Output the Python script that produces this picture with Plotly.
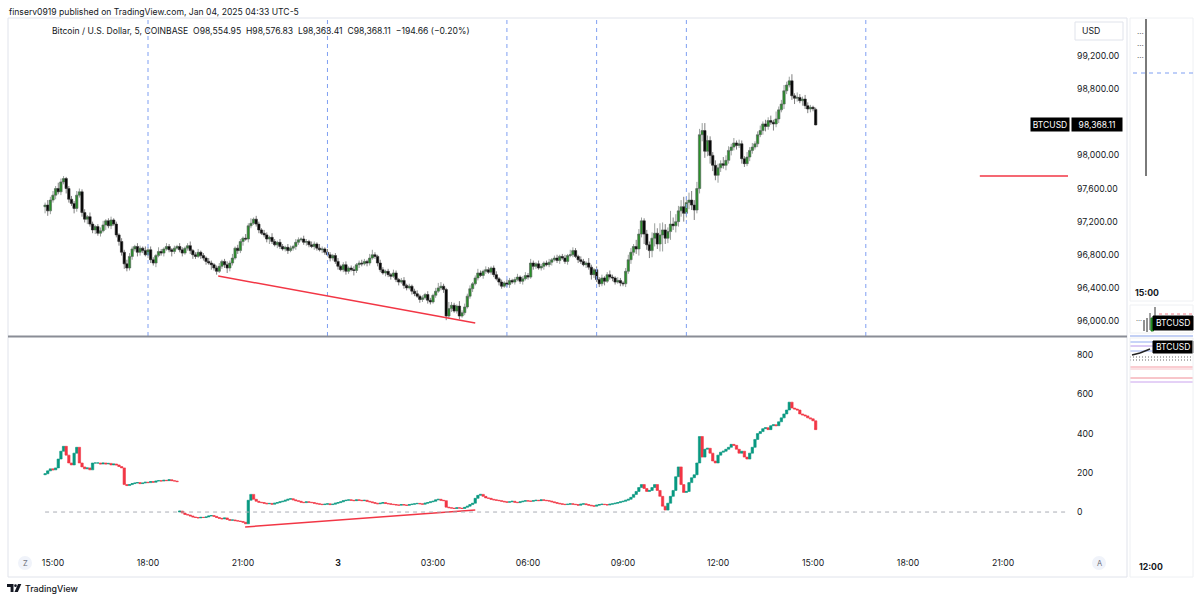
import pandas as pd
import plotly.graph_objects as go

W, H = 1200, 601


def px(x):
    return x / W


def py(y):
    return 1 - y / H


# ---------------- data ----------------
bar_start = "2025-01-02 14:45"
first_open = 97380
last_open = 98554.95

close = [
    97400, 97330, 97460, 97520, 97600, 97560, 97680, 97720, 97600, 97470,
    97420, 97360, 97520, 97560, 97310, 97230, 97260, 97170, 97100, 97140,
    97060, 97090, 97160, 97210, 97150, 97220, 97170, 97040, 96960, 96830,
    96690, 96640, 96780, 96870, 96900, 96830, 96880, 96850, 96800, 96860,
    96740, 96700, 96790, 96840, 96820, 96870, 96900, 96860, 96840, 96880,
    96900, 96860, 96820, 96880, 96910, 96850, 96800, 96780, 96830, 96790,
    96760, 96720, 96700, 96680, 96640, 96600, 96660, 96720, 96680, 96640,
    96700, 96760, 96880, 96850, 96960, 97000, 96990, 97150, 97180, 97230,
    97170, 97100, 97060, 97040, 96990, 97010, 96960, 96920, 96950, 96900,
    96870, 96890, 96850, 96880, 96900, 96950, 96980, 96990, 96950, 96960,
    96920, 96900, 96930, 96880, 96860, 96870, 96830, 96800, 96760, 96790,
    96720, 96660, 96620, 96680, 96600, 96640, 96620, 96610, 96680, 96700,
    96690, 96720, 96700, 96760, 96800, 96780, 96700, 96620, 96580, 96600,
    96560, 96540, 96580, 96500, 96470, 96490, 96430, 96400, 96420, 96360,
    96330, 96300, 96260, 96280, 96320, 96250, 96230, 96310, 96360, 96400,
    96420, 96380, 96060, 96150, 96190, 96120, 96180, 96060, 96100, 96170,
    96300, 96390, 96450, 96520, 96580, 96550, 96600, 96620, 96590, 96640,
    96560, 96510, 96470, 96420, 96460, 96440, 96490, 96470, 96500, 96530,
    96480, 96510, 96550, 96530, 96700, 96660, 96690, 96640, 96660, 96700,
    96680, 96710, 96740, 96760, 96730, 96780, 96760, 96720, 96790, 96800,
    96850, 96780, 96740, 96720, 96680, 96700, 96650, 96560, 96620, 96500,
    96450, 96520, 96480, 96560, 96530, 96520, 96470, 96490, 96460, 96450,
    96600, 96740, 96830, 96900, 96870, 97050, 97210, 97050, 96920, 96850,
    97000, 97060, 96930, 97040, 97100, 97000, 97080, 97170, 97150, 97200,
    97330, 97380, 97300, 97430, 97460, 97400, 97340, 97600, 98250, 98300,
    98050, 98180, 98000, 97880, 97760, 97850, 97900, 97880, 97940, 98060,
    98100, 98150, 98120, 98140, 97960, 97900, 97980, 98060, 98100, 98140,
    98250, 98300, 98380, 98350, 98420, 98400, 98380, 98440, 98550, 98620,
    98780, 98850, 98900, 98720, 98690, 98700, 98660, 98680, 98600, 98560,
    98580, 98562.77, 98368.11,
]

wick_up = [
    30, 60, 40, 50, 30, 70, 40, 30, 20, 30,
    40, 30, 50, 40, 30, 40, 20, 50, 30, 20,
    30, 40, 50, 20, 30, 40, 20, 30, 20, 40,
    30, 50, 40, 30, 20, 40, 30, 20, 50, 30,
    40, 30, 20, 50, 30, 20, 40, 30, 20, 30,
    20, 40, 30, 20, 30, 50, 20, 30, 40, 20,
    30, 20, 40, 30, 20, 30, 40, 20, 30, 40,
    30, 50, 20, 40, 30, 20, 50, 30, 60, 20,
    40, 30, 20, 40, 30, 20, 50, 30, 20, 40,
    30, 20, 40, 30, 20, 40, 30, 20, 40, 30,
    20, 40, 30, 20, 50, 30, 20, 40, 30, 20,
    30, 40, 20, 30, 40, 20, 30, 40, 20, 30,
    40, 30, 20, 50, 60, 30, 20, 40, 30, 20,
    30, 20, 40, 30, 20, 30, 40, 20, 30, 20,
    30, 40, 20, 30, 20, 40, 30, 20, 40, 60,
    50, 30, 20, 80, 40, 30, 20, 60, 30, 40,
    30, 40, 20, 30, 50, 30, 20, 40, 30, 20,
    30, 40, 20, 30, 20, 40, 30, 20, 30, 40,
    20, 30, 40, 30, 50, 30, 20, 40, 30, 20,
    30, 40, 20, 30, 40, 20, 30, 40, 20, 60,
    40, 30, 20, 40, 30, 20, 60, 30, 20, 40,
    30, 40, 20, 30, 50, 30, 20, 40, 30, 20,
    40, 60, 50, 30, 80, 60, 40, 30, 50, 40,
    70, 120, 60, 140, 90, 70, 50, 160, 80, 90,
    60, 80, 120, 70, 90, 110, 60, 80, 70, 90,
    90, 60, 50, 40, 60, 50, 40, 80, 60, 50,
    40, 60, 30, 50, 40, 30, 60, 40, 50, 30,
    40, 60, 30, 50, 40, 60, 30, 90, 40, 50,
    70, 40, 50, 80, 30, 60, 40, 30, 50, 40,
    30, 20, 21.88,
]

wick_dn = [
    80, 60, 40, 30, 50, 30, 40, 30, 60, 40,
    30, 60, 40, 30, 50, 40, 60, 30, 40, 50,
    30, 40, 20, 60, 30, 40, 20, 30, 50, 40,
    60, 40, 30, 40, 30, 50, 40, 30, 20, 40,
    40, 30, 50, 20, 30, 40, 20, 30, 60, 30,
    20, 30, 40, 20, 30, 40, 50, 30, 20, 40,
    30, 40, 20, 60, 30, 40, 20, 30, 40, 60,
    40, 30, 20, 40, 30, 50, 20, 40, 30, 20,
    30, 40, 20, 30, 40, 60, 30, 20, 40, 30,
    20, 30, 40, 20, 30, 40, 30, 20, 30, 40,
    30, 20, 40, 30, 20, 40, 30, 20, 40, 30,
    30, 40, 20, 30, 40, 30, 20, 60, 30, 40,
    30, 20, 40, 30, 20, 30, 40, 30, 20, 40,
    30, 40, 20, 30, 40, 20, 40, 30, 20, 40,
    30, 20, 40, 30, 20, 40, 30, 20, 30, 20,
    30, 40, 50, 30, 40, 20, 30, 40, 20, 30,
    20, 30, 40, 20, 30, 20, 40, 30, 20, 30,
    30, 20, 40, 30, 20, 30, 40, 20, 30, 20,
    30, 40, 20, 30, 20, 40, 30, 20, 30, 40,
    20, 30, 40, 20, 30, 40, 20, 30, 40, 20,
    30, 20, 40, 30, 20, 40, 30, 60, 40, 30,
    40, 30, 50, 20, 30, 40, 30, 20, 40, 30,
    40, 30, 50, 40, 60, 80, 40, 120, 60, 90,
    80, 100, 60, 90, 200, 70, 60, 100, 50, 80,
    60, 70, 100, 50, 80, 60, 120, 40, 60, 80,
    80, 60, 100, 70, 60, 90, 50, 40, 60, 40,
    60, 40, 50, 30, 60, 40, 30, 50, 40, 30,
    40, 30, 50, 60, 40, 30, 80, 40, 50, 30,
    60, 40, 30, 50, 70, 40, 30, 60, 40, 50,
    40, 30, 4.70,
]

cvd_first_open = 190
cvd_reset = "2025-01-02 19:00"
cvd_close = [
    195, 210, 220, 215, 225, 270, 310, 335, 290, 250,
    240, 300, 330, 250, 230, 220, 225, 215, 250, 250,
    250, 245, 250, 245, 248, 240, 245, 240, 232, 225,
    140, 135, 140, 145, 148, 150, 145, 148, 152, 150,
    155, 152, 158, 160, 158, 162, 160, 165, 160, 158, 155,
    5, -5, -12, -15, -20, -25, -28, -30, -27, -28,
    -25, -20, -18, -22, -28, -32, -35, -30, -38, -42,
    -40, -44, -46, -48, -52, -60, 60, 90, 65, 55,
    50, 48, 45, 42, 44, 40, 45, 48, 52, 55,
    60, 65, 68, 62, 58, 55, 50, 48, 52, 50,
    48, 45, 42, 40, 38, 40, 42, 38, 40, 45,
    48, 52, 58, 60, 62, 60, 58, 62, 60, 58,
    60, 55, 52, 48, 45, 42, 45, 48, 44, 42,
    40, 38, 36, 35, 38, 36, 34, 38, 40, 42,
    44, 42, 40, 45, 48, 52, 55, 62, 65, 60,
    58, 25, 22, 20, 18, 22, 20, 18, 24, 30,
    38, 45, 70, 85, 90, 80, 72, 70, 65, 62,
    60, 58, 55, 52, 50, 52, 55, 50, 48, 52,
    55, 58, 56, 55, 58, 60, 58, 62, 60, 58,
    56, 52, 48, 45, 42, 40, 38, 40, 42, 40,
    38, 35, 40, 42, 38, 35, 32, 30, 35, 38,
    40, 38, 36, 40, 42, 45, 48, 52, 55, 60,
    65, 75, 90, 105, 125, 140, 120, 105, 110, 125, 140, 110, 80, 30, 10,
    45, 80, 110, 180, 230, 140, 100, 105, 150, 175,
    190, 250, 385, 280, 320, 325, 300, 260, 250, 290,
    305, 310, 320, 330, 345, 340, 320, 300, 310, 280,
    270, 300, 330, 370, 400, 410, 425, 430, 420, 440,
    445, 440, 460, 480, 500, 520, 560, 530, 525, 520,
    500, 495, 490, 480, 475, 465, 420,
]

session_lines = ["2025-01-02 18:00", "2025-01-02 23:40", "2025-01-03 05:20",
                 "2025-01-03 08:10", "2025-01-03 11:00", "2025-01-03 16:40"]
price_trend = (("2025-01-02 20:13", 96543), ("2025-01-03 04:20", 95976))
cvd_trend = (("2025-01-02 21:04", -76), ("2025-01-03 04:20", 10))
level_line = ("2025-01-03 20:16", 97751)

x_range = ["2025-01-02 13:34:44", "2025-01-03 23:03:05"]
price_range = [95819, 99659]
price_ticks = [96000, 96400, 96800, 97200, 97600, 98000, 98800, 99200]
cvd_range = [-168, 887]
cvd_ticks = [0, 200, 400, 600, 800]
time_ticks = ["2025-01-02 15:00", "2025-01-02 18:00", "2025-01-02 21:00",
              "2025-01-03 00:00", "2025-01-03 03:00", "2025-01-03 06:00",
              "2025-01-03 09:00", "2025-01-03 12:00", "2025-01-03 15:00",
              "2025-01-03 18:00", "2025-01-03 21:00"]
time_labels = ["15:00", "18:00", "21:00", "<b>3</b>", "03:00", "06:00",
               "09:00", "12:00", "15:00", "18:00", "21:00"]

# ---------------- derived OHLC ----------------
times = pd.date_range(bar_start, periods=len(close), freq="5min")
opens = [first_open] + close[:-1]
opens[-1] = last_open
highs = [max(o, c) + w for o, c, w in zip(opens, close, wick_up)]
lows = [min(o, c) - w for o, c, w in zip(opens, close, wick_dn)]

cvd_open = [cvd_first_open] + cvd_close[:-1]
reset_idx = list(times).index(pd.Timestamp(cvd_reset))
cvd_open[reset_idx] = 0
cvd_high = [max(o, c) for o, c in zip(cvd_open, cvd_close)]
cvd_low = [min(o, c) for o, c in zip(cvd_open, cvd_close)]

FONT = "Inter"
TXT = "#131722"
FS = 8.7

fig = go.Figure()
fig.add_trace(go.Candlestick(
    x=times, open=opens, high=highs, low=lows, close=close,
    xaxis="x", yaxis="y", whiskerwidth=0,
    increasing=dict(fillcolor="#2a8f2a", line=dict(color="#55605a", width=0.6)),
    decreasing=dict(fillcolor="#050505", line=dict(color="#2a2a2a", width=0.6)),
    showlegend=False, hoverinfo="skip"))
fig.add_trace(go.Candlestick(
    x=times, open=cvd_open, high=cvd_high, low=cvd_low, close=cvd_close,
    xaxis="x2", yaxis="y2", whiskerwidth=0,
    increasing=dict(fillcolor="#089981", line=dict(color="#089981", width=0.6)),
    decreasing=dict(fillcolor="#f23645", line=dict(color="#f23645", width=0.6)),
    showlegend=False, hoverinfo="skip"))

shapes = []
annotations = []


def pline(x0, y0, x1, y1, color, width=1, dash=None):
    shapes.append(dict(type="line", xref="paper", yref="paper",
                       x0=px(x0), y0=py(y0), x1=px(x1), y1=py(y1),
                       line=dict(color=color, width=width, dash=dash), layer="above"))


def prect(x0, y0, x1, y1, line="#e0e3eb", fill="rgba(0,0,0,0)", width=1):
    shapes.append(dict(type="rect", xref="paper", yref="paper",
                       x0=px(x0), y0=py(y0), x1=px(x1), y1=py(y1),
                       line=dict(color=line, width=width), fillcolor=fill, layer="above"))


def ptext(x, y, text, size=FS, color=TXT, xanchor="left", weight=None, **kw):
    f = dict(family=FONT, size=size, color=color)
    if weight:
        f["weight"] = weight
    annotations.append(dict(xref="paper", yref="paper", x=px(x), y=py(y), text=text,
                            showarrow=False, xanchor=xanchor, yanchor="middle",
                            font=f, **kw))


# session dashed lines (main pane only)
for t in session_lines:
    shapes.append(dict(type="line", xref="x", yref="paper", x0=t, x1=t,
                       y0=py(336), y1=py(18),
                       line=dict(color="#7f9ff2", width=1, dash="4px,4px")))

# trend lines
shapes.append(dict(type="line", xref="x", yref="y",
                   x0=price_trend[0][0], y0=price_trend[0][1],
                   x1=price_trend[1][0], y1=price_trend[1][1],
                   line=dict(color="#f23645", width=1.5)))
shapes.append(dict(type="line", xref="x2", yref="y2",
                   x0=cvd_trend[0][0], y0=cvd_trend[0][1],
                   x1=cvd_trend[1][0], y1=cvd_trend[1][1],
                   line=dict(color="#f23645", width=1.5)))
shapes.append(dict(type="line", xref="x", yref="y",
                   x0=level_line[0], y0=level_line[1],
                   x1=x_range[1], y1=level_line[1],
                   line=dict(color="#f23645", width=1.5)))
# zero line lower pane
shapes.append(dict(type="line", xref="x2", yref="y2",
                   x0=times[0], y0=0, x1=x_range[1], y1=0,
                   line=dict(color="#a9acb5", width=1, dash="4px,4px")))

# frames
prect(8, 18, 1127, 577)
pline(8, 336.5, 1127, 336.5, "#8a8d96", 2)

# USD box
prect(1075, 22, 1123, 40, line="#e0e3eb", fill="white")
ptext(1080, 31, "USD", size=FS)

# current price labels
last_close = close[-1]
annotations.append(dict(xref="paper", yref="y", x=px(1049.5), y=last_close,
                        text="BTCUSD", showarrow=False, xanchor="center", yanchor="middle",
                        font=dict(family=FONT, size=8.5, color="white"),
                        bgcolor="#000000", width=36, height=11, borderpad=1))
annotations.append(dict(xref="paper", yref="y", x=px(1097), y=last_close,
                        text=f"{last_close:,.2f}", showarrow=False, xanchor="center",
                        yanchor="middle", font=dict(family=FONT, size=8.5, color="white"),
                        bgcolor="#000000", width=48, height=11, borderpad=1))

# header and legend
ptext(7, 12, "finserv0919 published on TradingView.com, Jan 04, 2025 04:33 UTC-5", size=8.6)
ptext(50, 31, "Bitcoin / U.S. Dollar, 5, COINBASE\u00a0\u00a0O98,554.95\u00a0\u00a0H98,576.83"
              "\u00a0\u00a0L98,363.41\u00a0\u00a0C98,368.11\u00a0\u00a0\u2212194.66 (\u22120.20%)", size=8.6)

# Z / A buttons
shapes.append(dict(type="circle", xref="paper", yref="paper", x0=px(18), x1=px(32),
                   y0=py(570), y1=py(556), fillcolor="#f0f3fa", line=dict(width=0), layer="above"))
ptext(25, 563, "Z", size=7.5, color="#6a6d78", xanchor="center")
shapes.append(dict(type="circle", xref="paper", yref="paper", x0=px(1092), x1=px(1106),
                   y0=py(570), y1=py(556), fillcolor="#f0f3fa", line=dict(width=0), layer="above"))
ptext(1099, 563, "A", size=7.5, color="#6a6d78", xanchor="center")


# TradingView logo
def poly(pts):
    d = "M " + " L ".join(f"{px(x)},{py(y)}" for x, y in pts) + " Z"
    shapes.append(dict(type="path", xref="paper", yref="paper", path=d,
                       fillcolor="#131722", line=dict(width=0)))


poly([(7, 584), (13.5, 584), (13.5, 592), (10.6, 592), (10.6, 587), (7, 587)])
shapes.append(dict(type="circle", xref="paper", yref="paper", x0=px(14.2), x1=px(16.8),
                   y0=py(587), y1=py(584.3), fillcolor="#131722", line=dict(width=0)))
poly([(18, 584), (21.3, 584), (17.8, 592), (14.5, 592)])
ptext(23, 588, "TradingView", size=8.8, weight=500)

# right mini panel
prect(1130, 18, 1193, 301, line="#eef0f3")
for yy in (33, 45, 57):
    ptext(1140, yy, "···", size=8, color="#555", xanchor="center")
pline(1146, 19, 1146, 176, "#7a7a7a", 2)
pline(1133, 73, 1193, 73, "#7f9ff2", 1, "4px,4px")
ptext(1133, 293, "15:00", size=8.7, weight=700)
prect(1130, 305, 1193, 333, line="#eef0f3")
ptext(1139, 320, "···", size=7, color="#555", xanchor="center")
pline(1144, 320, 1144, 331, "#222", 1)
pline(1147, 318, 1147, 332, "#222", 1)
pline(1150, 313, 1150, 330, "#444", 1)
prect(1151, 318, 1153.5, 331, line="#1c7a1c", fill="#27a327")
pline(1155, 307, 1155, 320, "#333", 1)
pline(1159, 314, 1193, 314, "#f27d87", 1, "3px,3px")
prect(1153, 316, 1193, 330, line="#000", fill="#000")
ptext(1173, 323, "BTCUSD", size=8.5, color="white", xanchor="center")
pline(1130, 336, 1193, 336, "#c3d0f5", 2)
pline(1130, 342, 1193, 342, "#90a9f0", 1)
pline(1130, 346, 1193, 346, "#b796ea", 1)
pline(1130, 351, 1193, 351, "#9fb4f2", 1)
pline(1130, 357, 1193, 357, "#666", 1, "1px,2px")
pline(1130, 360, 1193, 360, "#666", 1, "1px,2px")
pline(1130, 367, 1193, 367, "#f59aa3", 1)
pline(1130, 369, 1193, 369, "#f7c4c9", 1)
pline(1130, 378, 1193, 378, "#f08c96", 1)
pline(1130, 382, 1193, 382, "#caa3ee", 1)
pline(1132, 355, 1140, 353, "#222", 1.5)
pline(1140, 353, 1150, 349, "#222", 1.5)
prect(1153, 341, 1193, 353, line="#000", fill="#000")
ptext(1173, 347, "BTCUSD", size=8.5, color="white", xanchor="center")
prect(1130, 338, 1193, 577, line="#eef0f3")
ptext(1137, 567, "12:00", size=8.7, weight=700)

axis_common = dict(showgrid=False, zeroline=False, showline=False, ticks="")
fig.update_layout(
    width=W, height=H, margin=dict(l=0, r=0, t=0, b=0),
    paper_bgcolor="white", plot_bgcolor="white",
    font=dict(family=FONT, size=FS, color=TXT),
    boxgap=0.1, boxgroupgap=0,
    xaxis=dict(domain=[px(8), px(1068)], range=x_range, type="date", anchor="y",
               showticklabels=False, rangeslider=dict(visible=False), **axis_common),
    yaxis=dict(domain=[py(336), py(18)], range=price_range, side="right", anchor="x",
               tickvals=price_ticks, tickformat=",.2f", ticklabelstandoff=8,
               tickfont=dict(family=FONT, size=FS, color=TXT), **axis_common),
    xaxis2=dict(domain=[px(8), px(1068)], range=x_range, type="date", anchor="y2",
                matches="x", tickvals=time_ticks, ticktext=time_labels,
                ticklabelstandoff=11, tickfont=dict(family=FONT, size=FS, color=TXT),
                rangeslider=dict(visible=False), **axis_common),
    yaxis2=dict(domain=[py(545), py(338)], range=cvd_range, side="right", anchor="x2",
                tickvals=cvd_ticks, ticklabelstandoff=8,
                tickfont=dict(family=FONT, size=FS, color=TXT), **axis_common),
    shapes=shapes, annotations=annotations,
)

fig.write_html("out.html", config={"displayModeBar": False},
               post_script="document.body.style.margin='0px';document.body.style.overflow='hidden';")
